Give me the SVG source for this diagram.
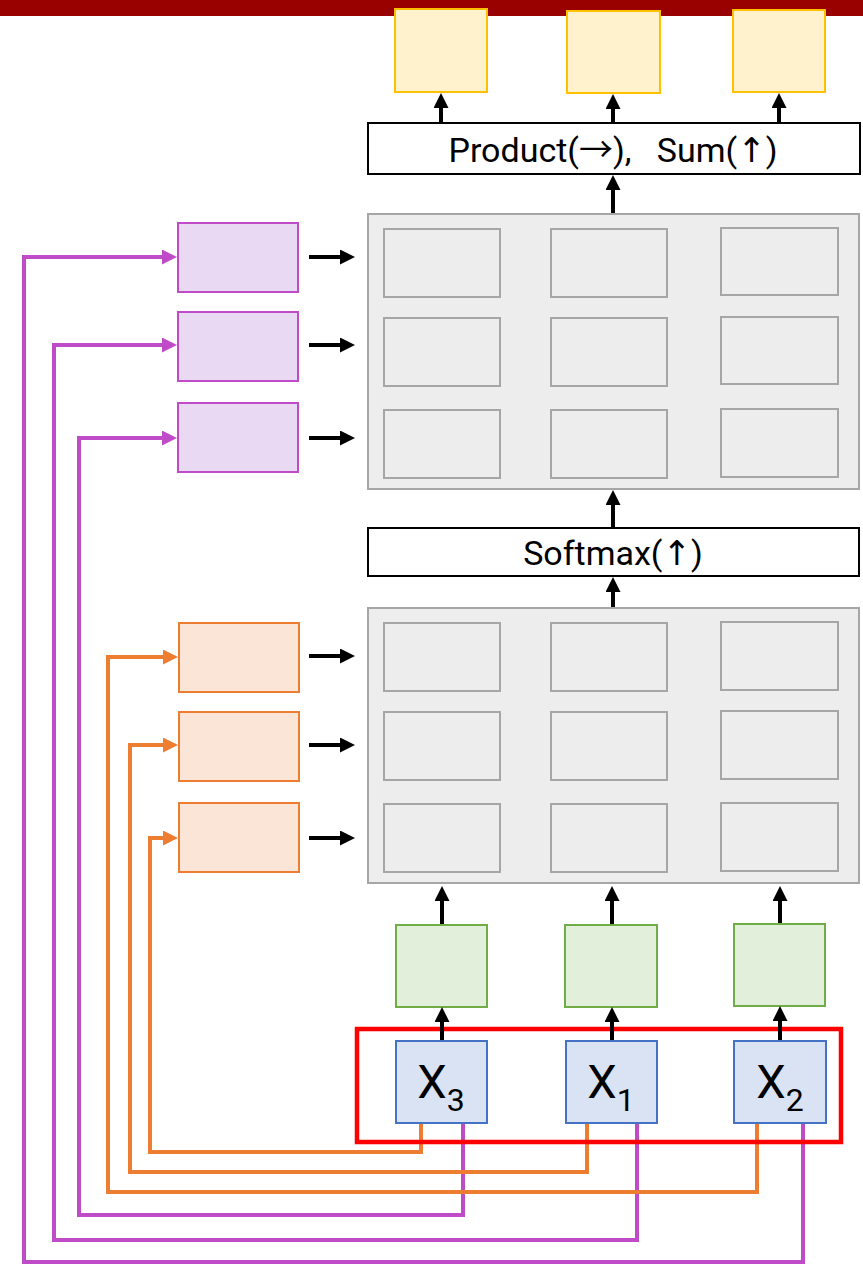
<svg xmlns="http://www.w3.org/2000/svg" width="863" height="1265" viewBox="0 0 863 1265">
<style>
.yel{fill:#FFF2CC;stroke:#FFC000;stroke-width:2}
.box{fill:#FFFFFF;stroke:#000000;stroke-width:2}
.grid{fill:#EDEDED;stroke:#A6A6A6;stroke-width:2}
.cell{fill:#EDEDED;stroke:#A6A6A6;stroke-width:2}
.pur{fill:#EAD9F3;stroke:#BF4BC8;stroke-width:2}
.org{fill:#FBE5D6;stroke:#ED7D31;stroke-width:2}
.grn{fill:#E2EFDA;stroke:#70AD47;stroke-width:2}
.inp{fill:#DAE3F3;stroke:#4472C4;stroke-width:2}
.lbl{font-family:Roboto,"Liberation Sans",sans-serif;font-size:34px;fill:#000;text-anchor:middle;white-space:pre}
.arr{font-family:"DejaVu Sans",sans-serif}
.rarr{font-family:"Noto Sans CJK SC","DejaVu Sans",sans-serif}
.xl{font-family:Roboto,"Liberation Sans",sans-serif;font-size:47px;fill:#000;text-anchor:middle}
.blk{fill:none;stroke:#000;stroke-width:4;marker-end:url(#ab)}
.pl{fill:none;stroke:#BF4BC8;stroke-width:4;marker-end:url(#ap)}
.ol{fill:none;stroke:#ED7D31;stroke-width:4;marker-end:url(#ao)}
</style>
<defs>
<marker id="ab" viewBox="0 0 15 15" refX="1" refY="7.5" markerWidth="15" markerHeight="15" markerUnits="userSpaceOnUse" orient="auto"><path d="M0,0 L15,7.5 L0,15 z" fill="#000"/></marker>
<marker id="ap" viewBox="0 0 15 15" refX="1" refY="7.5" markerWidth="15" markerHeight="15" markerUnits="userSpaceOnUse" orient="auto"><path d="M0,0 L15,7.5 L0,15 z" fill="#BF4BC8"/></marker>
<marker id="ao" viewBox="0 0 15 15" refX="1" refY="7.5" markerWidth="15" markerHeight="15" markerUnits="userSpaceOnUse" orient="auto"><path d="M0,0 L15,7.5 L0,15 z" fill="#ED7D31"/></marker>
</defs>
<rect x="0" y="0" width="863" height="16" fill="#990000"/>
<g id="connectors-colored">
<path class="pl" d="M803,1122 V1262 H24 V257 H163"/>
<path class="pl" d="M637,1122 V1240 H54 V345 H163"/>
<path class="pl" d="M463,1122 V1215 H79 V438 H163"/>
<path class="ol" d="M757,1122 V1192 H108 V657 H164"/>
<path class="ol" d="M587,1122 V1172 H130 V745 H164"/>
<path class="ol" d="M421,1122 V1152 H150 V838 H164"/>
</g>
<g id="out1"><rect class="yel" x="395" y="9" width="92" height="83"/></g>
<g id="out2"><rect class="yel" x="567" y="11" width="93" height="82"/></g>
<g id="out3"><rect class="yel" x="733" y="10" width="92" height="82"/></g>
<g id="product"><rect class="box" x="368" y="123" width="492" height="51"/><text class="lbl" x="613" y="162" xml:space="preserve">Product(<tspan class="rarr">→</tspan>),   Sum(<tspan class="arr">↑</tspan>)</text></g>
<g id="attn">
<rect class="grid" x="368" y="214" width="491" height="275"/>
<rect class="cell" x="384" y="229" width="116" height="68"/>
<rect class="cell" x="551" y="229" width="116" height="68"/>
<rect class="cell" x="721" y="228" width="117" height="67"/>
<rect class="cell" x="384" y="318" width="116" height="68"/>
<rect class="cell" x="551" y="318" width="116" height="68"/>
<rect class="cell" x="721" y="317" width="117" height="67"/>
<rect class="cell" x="384" y="410" width="116" height="68"/>
<rect class="cell" x="551" y="410" width="116" height="68"/>
<rect class="cell" x="721" y="409" width="117" height="68"/>
</g>
<g id="softmax"><rect class="box" x="368" y="528" width="491" height="48"/><text class="lbl" x="613" y="565">Softmax(<tspan class="arr">↑</tspan>)</text></g>
<g id="scores">
<rect class="grid" x="368" y="608" width="491" height="275"/>
<rect class="cell" x="384" y="623" width="116" height="68"/>
<rect class="cell" x="551" y="623" width="116" height="68"/>
<rect class="cell" x="721" y="622" width="117" height="68"/>
<rect class="cell" x="384" y="712" width="116" height="68"/>
<rect class="cell" x="551" y="712" width="116" height="68"/>
<rect class="cell" x="721" y="711" width="117" height="68"/>
<rect class="cell" x="384" y="804" width="116" height="68"/>
<rect class="cell" x="551" y="804" width="116" height="68"/>
<rect class="cell" x="721" y="803" width="117" height="68"/>
</g>
<g id="v1"><rect class="pur" x="178" y="223" width="120" height="69"/></g>
<g id="v2"><rect class="pur" x="178" y="312" width="120" height="69"/></g>
<g id="v3"><rect class="pur" x="178" y="403" width="120" height="69"/></g>
<g id="k1"><rect class="org" x="179" y="623" width="120" height="69"/></g>
<g id="k2"><rect class="org" x="179" y="712" width="120" height="69"/></g>
<g id="k3"><rect class="org" x="179" y="803" width="120" height="69"/></g>
<g id="q1"><rect class="grn" x="396" y="925" width="91" height="82"/></g>
<g id="q2"><rect class="grn" x="565" y="925" width="92" height="82"/></g>
<g id="q3"><rect class="grn" x="734" y="924" width="91" height="82"/></g>
<g id="x3"><rect class="inp" x="396" y="1041" width="91" height="82"/><text class="xl" x="441" y="1098">X<tspan font-size="32" dy="13">3</tspan></text></g>
<g id="x1"><rect class="inp" x="566" y="1041" width="91" height="82"/><text class="xl" x="611" y="1098">X<tspan font-size="32" dy="13">1</tspan></text></g>
<g id="x2"><rect class="inp" x="734" y="1041" width="92" height="82"/><text class="xl" x="780" y="1098">X<tspan font-size="32" dy="13">2</tspan></text></g>
<g id="frame"><rect x="357" y="1029" width="484" height="113" fill="none" stroke="#FF0000" stroke-width="4.5"/></g>
<g id="connectors">
<path class="blk" d="M441,122 V107"/>
<path class="blk" d="M613,122 V108"/>
<path class="blk" d="M779,122 V107"/>
<path class="blk" d="M613,213 V189"/>
<path class="blk" d="M613,528 V504"/>
<path class="blk" d="M613,607 V591"/>
<path class="blk" d="M442,924 V900"/>
<path class="blk" d="M612,924 V900"/>
<path class="blk" d="M780,923 V900"/>
<path class="blk" d="M442,1040 V1021"/>
<path class="blk" d="M612,1040 V1021"/>
<path class="blk" d="M780,1040 V1020"/>
<path class="blk" d="M309,257 H341"/>
<path class="blk" d="M309,345 H341"/>
<path class="blk" d="M309,438 H341"/>
<path class="blk" d="M309,656 H341"/>
<path class="blk" d="M309,745 H341"/>
<path class="blk" d="M309,838 H341"/>
</g>
</svg>
